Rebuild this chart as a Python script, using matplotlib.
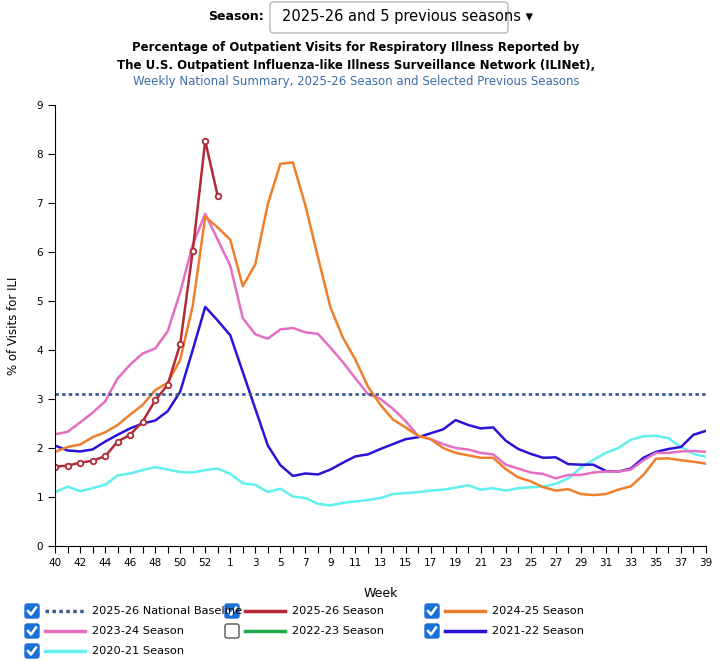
import matplotlib
matplotlib.use("Agg")
import matplotlib.pyplot as plt
from matplotlib.patches import FancyBboxPatch
from matplotlib.lines import Line2D

weeks = list(range(40, 54)) + list(range(1, 40))
tick_labels = [str(w) if (w <= 52 and w % 2 == 0 and w >= 40) or (w < 40 and w % 2 == 1) else "" for w in weeks]

baseline = 3.1
s2526 = [1.62,1.64,1.70,1.74,1.83,2.13,2.27,2.54,2.97,3.29,4.12,6.02,8.27,7.14]
s2425 = [1.92,2.02,2.07,2.22,2.32,2.47,2.68,2.88,3.18,3.33,3.80,4.90,6.72,6.50,
         6.25,5.30,5.75,6.98,7.80,7.83,6.95,5.90,4.87,4.25,3.80,3.25,2.88,2.58,2.42,2.25,2.18,2.00,1.90,1.85,1.80,1.80,
         1.57,1.40,1.32,1.20,1.13,1.16,1.06,1.04,1.06,1.15,1.22,1.45,1.78,1.79,1.75,1.72,1.68]
s2324 = [2.28,2.33,2.52,2.72,2.95,3.42,3.70,3.93,4.03,4.38,5.18,6.15,6.78,6.25,
         5.72,4.65,4.32,4.23,4.42,4.45,4.36,4.33,4.05,3.75,3.42,3.10,3.00,2.80,2.55,2.25,2.18,2.08,2.00,1.97,1.90,1.87,
         1.66,1.58,1.50,1.47,1.38,1.45,1.45,1.50,1.52,1.52,1.56,1.75,1.90,1.90,1.93,1.94,1.92]
s2122 = [2.05,1.95,1.93,1.97,2.13,2.27,2.40,2.50,2.56,2.75,3.15,4.00,4.88,4.60,
         4.30,3.55,2.80,2.05,1.65,1.43,1.48,1.46,1.56,1.70,1.83,1.87,1.98,2.08,2.18,2.22,2.30,2.38,2.57,2.47,2.40,2.42,
         2.15,1.98,1.88,1.80,1.81,1.67,1.66,1.66,1.53,1.52,1.58,1.80,1.92,1.98,2.02,2.27,2.35]
s2021 = [1.10,1.21,1.12,1.18,1.25,1.44,1.48,1.55,1.61,1.56,1.51,1.50,1.55,1.58,
         1.47,1.28,1.25,1.10,1.17,1.01,0.98,0.86,0.83,0.88,0.91,0.94,0.98,1.06,1.08,1.10,1.13,1.15,1.19,1.24,1.15,1.18,
         1.13,1.18,1.20,1.21,1.27,1.38,1.60,1.76,1.90,2.00,2.17,2.24,2.25,2.20,2.02,1.88,1.82]

C_BASE = "#3a5a8c"; C_2526 = "#b22a35"; C_2425 = "#ee7f2d"; C_2324 = "#e46fc2"
C_2223 = "#22a94a"; C_2122 = "#2a12d8"; C_2021 = "#5ff0f0"

W, H = 728, 667
fig = plt.figure(figsize=(W/100, H/100), dpi=100)
ax = fig.add_axes([55/W, 1-546/H, (706-55)/W, (546-105)/H])
x = list(range(len(weeks)))
ax.plot(x, s2021, color=C_2021, lw=1.8)
ax.plot(x, s2122, color=C_2122, lw=1.8)
ax.plot(x, s2324, color=C_2324, lw=1.8)
ax.plot(x, s2425, color=C_2425, lw=1.8)
ax.plot(x[:len(s2526)], s2526, color=C_2526, lw=1.8, marker='o', ms=4, mfc='white', mec=C_2526, mew=1.3)
ax.axhline(baseline, color=C_BASE, lw=2, ls=(0, (1.2, 1.2)))
ax.set_xlim(0, len(weeks)-1)
ax.set_ylim(0, 9)
ax.set_yticks(range(10))
ax.set_xticks(x)
ax.set_xticklabels(tick_labels, fontsize=7.5)
ax.tick_params(labelsize=7.5, length=5)
for s in ['top', 'right']:
    ax.spines[s].set_visible(False)
ax.set_xlabel("Week", fontsize=9, labelpad=14)
ax.set_ylabel("% of Visits for ILI", fontsize=8.5, labelpad=12)

fig.text(264/W, 1-17/H, "Season:", ha='right', va='center', fontsize=9, fontweight='bold')
fig.patches.append(FancyBboxPatch((270/W, 1-33/H), 238/W, 31/H, boxstyle="round,pad=0,rounding_size=0.005",
                                  transform=fig.transFigure, fc='white', ec='#bbbbbb', lw=1))
fig.text(282/W, 1-17/H, "2025-26 and 5 previous seasons ▾", ha='left', va='center', fontsize=10.5)
fig.text(356/W, 1-48/H, "Percentage of Outpatient Visits for Respiratory Illness Reported by", ha='center', va='center', fontsize=8.5, fontweight='bold')
fig.text(356/W, 1-65/H, "The U.S. Outpatient Influenza-like Illness Surveillance Network (ILINet),", ha='center', va='center', fontsize=8.5, fontweight='bold')
fig.text(356/W, 1-82/H, "Weekly National Summary, 2025-26 Season and Selected Previous Seasons", ha='center', va='center', fontsize=8.5, color='#3a6ea5')

legend = [
    (25, 611, "2025-26 National Baseline", C_BASE, True, True),
    (225, 611, "2025-26 Season", C_2526, True, False),
    (425, 611, "2024-25 Season", C_2425, True, False),
    (25, 631, "2023-24 Season", C_2324, True, False),
    (225, 631, "2022-23 Season", C_2223, False, False),
    (425, 631, "2021-22 Season", C_2122, True, False),
    (25, 651, "2020-21 Season", C_2021, True, False),
]
for lx, ly, lab, col, chk, dotted in legend:
    fig.patches.append(FancyBboxPatch(((lx)/W, 1-(ly+7)/H), 14/W, 14/H, boxstyle="round,pad=0,rounding_size=0.003",
                                      transform=fig.transFigure, fc='#1a6fd6' if chk else 'white',
                                      ec='#1a6fd6' if chk else '#555555', lw=1))
    if chk:
        fig.add_artist(Line2D([(lx+3)/W, (lx+6)/W, (lx+11)/W], [1-(ly)/H, 1-(ly+3.5)/H, 1-(ly-3.5)/H],
                              transform=fig.transFigure, color='white', lw=1.8))
    fig.add_artist(Line2D([(lx+20)/W, (lx+60)/W], [1-ly/H, 1-ly/H], transform=fig.transFigure,
                          color=col, lw=2.5, ls=(0, (1, 1)) if dotted else '-'))
    fig.text((lx+67)/W, 1-ly/H, lab, ha='left', va='center', fontsize=8.2)

fig.savefig("out.png", dpi=100)
